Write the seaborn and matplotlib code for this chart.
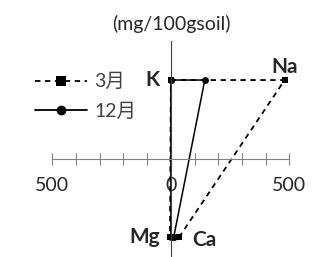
"""Stiff-style diagram of exchangeable cations, March vs December."""

import matplotlib
matplotlib.use('Agg')
import matplotlib.pyplot as plt
import seaborn as sns
import pandas as pd
from matplotlib.lines import Line2D

# cations: left side of the diagram (negative x) and right side (positive x)
left_ions = ['K', 'Mg']
right_ions = ['Na', 'Ca']
row_y = [1, -1]

march_left = [0, 4]
march_right = [480, 35]
dec_left = [0, 0]
dec_right = [143, 12]

series_names = ['3月', '12月']
tick_values = [-500, -400, -300, -200, -100, 0, 100, 200, 300, 400, 500]
tick_labels = ['500', '', '', '', '', '0', '', '', '', '', '500']


def polygon(left, right):
    """Closed path K -> Na -> Ca -> Mg -> K."""
    xs = [-left[0], right[0], right[1], -left[1], -left[0]]
    ys = [row_y[0], row_y[0], row_y[1], row_y[1], row_y[0]]
    return pd.DataFrame({'x': xs, 'y': ys})


sns.set_style('white')
plt.rcParams['font.family'] = ['Lato', 'Noto Sans CJK JP']

fig = plt.figure(figsize=(3.29, 2.57), dpi=100)
ax = fig.add_axes([0, 0, 1, 1])

# dashed squares for March, solid circles for December
sns.lineplot(data=polygon(march_left, march_right), x='x', y='y', sort=False,
             estimator=None, color='black', linestyle=(0, (3, 2.5)), lw=1.3,
             marker='s', markersize=4.5, markeredgewidth=0, ax=ax)
sns.lineplot(data=polygon(dec_left, dec_right), x='x', y='y', sort=False,
             estimator=None, color='black', linestyle='-', lw=1.1,
             marker='o', markersize=5, markeredgewidth=0, ax=ax)

ax.set_xlim(-721, 667)
ax.set_ylim(-1.255, 2.02)

# axes through the origin
for side in ['top', 'right']:
    ax.spines[side].set_visible(False)
ax.spines['bottom'].set_position(('data', 0))
ax.spines['bottom'].set_bounds(-500, 500)
ax.spines['bottom'].set_color('#808080')
ax.spines['left'].set_position(('data', 0))
ax.spines['left'].set_bounds(-1.3, 1.5)
ax.spines['left'].set_color('#404040')
ax.spines['left'].set_linewidth(0.8)
ax.set_xticks(tick_values)
ax.set_xticklabels(tick_labels, fontsize=14)
ax.tick_params(axis='x', bottom=True, direction='inout', length=9, width=0.8,
               color='#808080', pad=9)
ax.set_yticks([])
ax.set_xlabel('')
ax.set_ylabel('')

# ion labels
ax.text(-46, row_y[0], left_ions[0], ha='right', va='center',
        fontsize=15, fontweight='bold')
ax.text(480, row_y[0] + 0.16, right_ions[0], ha='center', va='center',
        fontsize=15, fontweight='bold')
ax.text(-46, row_y[1], left_ions[1], ha='right', va='center',
        fontsize=15, fontweight='bold')
ax.text(143, row_y[1] - 0.04, right_ions[1], ha='center', va='center',
        fontsize=15, fontweight='bold')

ax.text(0, 1.72, '(mg/100gsoil)', ha='center', va='center', fontsize=14)

handles = [
    Line2D([], [], color='black', linestyle=(0, (3, 2.5)), lw=1.3,
           marker='s', markersize=7, markeredgewidth=0),
    Line2D([], [], color='black', linestyle='-', lw=1.3,
           marker='o', markersize=7, markeredgewidth=0),
]
leg = ax.legend(handles, series_names, loc='upper left',
                bbox_to_anchor=(0.106, 0.716), frameon=False, fontsize=14,
                handlelength=2.7, handletextpad=0.35, labelspacing=0.6,
                borderpad=0, borderaxespad=0, numpoints=1)
for t in leg.get_texts():
    t.set_color('#404040')

fig.savefig('out.png', dpi=100)
